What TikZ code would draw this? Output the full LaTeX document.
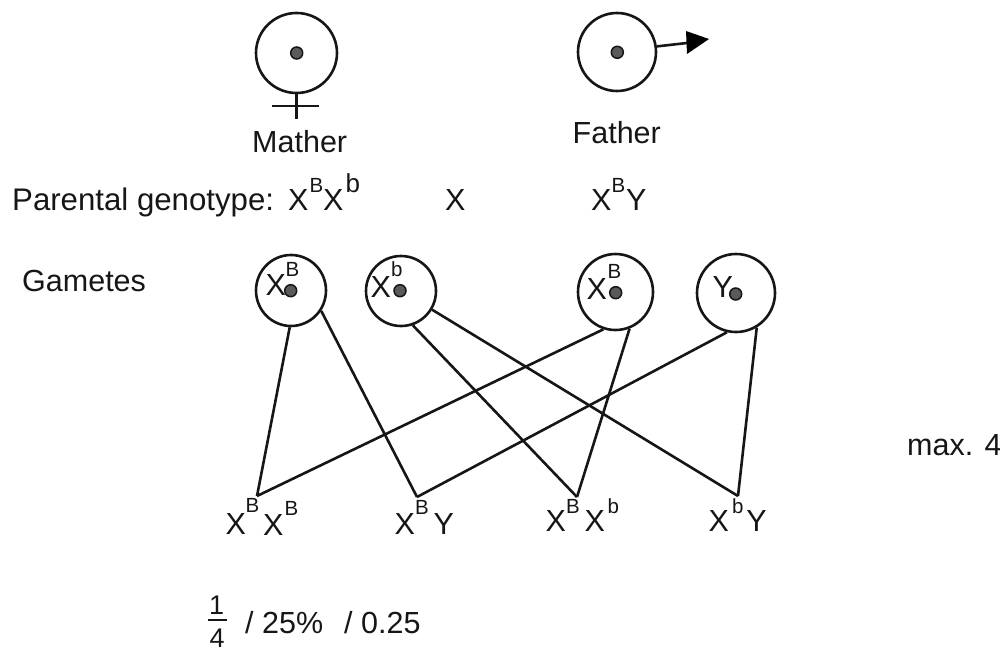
\documentclass[tikz,border=0pt]{standalone}
\usepackage{fontspec}
\setmainfont{Liberation Sans}
\usetikzlibrary{shapes.geometric}
\newcommand{\mainsize}{\fontsize{30.5}{36}\selectfont}
% \rsup{kern before}{raise}{size}{text}
\newcommand{\rsup}[4]{\hspace{#1pt}\raisebox{#2pt}{\fontsize{#3}{#3}\selectfont #4}}
\definecolor{ink}{HTML}{161616}
\definecolor{dotfill}{HTML}{5A5A5A}
\tikzset{
  lbl/.style={anchor=base west,inner sep=0pt,text=ink,font=\mainsize},
  sup/.style={anchor=base west,inner sep=0pt,text=ink,font=\fontsize{20.5}{24}\selectfont},
  frac/.style={anchor=base west,inner sep=0pt,text=ink,font=\fontsize{27}{29}\selectfont},
  ring/.style={draw=ink,ellipse,line width=2.6pt,inner sep=0pt},
  nucleus/.style={draw=ink,circle,fill=dotfill,line width=1.5pt,minimum size=12pt,inner sep=0pt},
  link/.style={draw=ink,line width=2.6pt}
}
\begin{document}
\begin{tikzpicture}[x=1pt,y=-1pt]
\useasboundingbox (0,0) rectangle (1000,650);
% parents
\node[ring,minimum width=81pt,minimum height=80pt] (mum) at (296.5,53) {};
\node[nucleus] (mumdot) at (296.7,53) {};
\coordinate (crossbot) at (296.5,119);
\coordinate (crossl) at (272,106);
\coordinate (crossr) at (319,106);
\draw[link] (mum.south) -- (crossbot);
\draw[link] (crossl) -- (crossr);
\node[ring,minimum width=78pt,minimum height=78pt] (dad) at (617,52) {};
\node[nucleus] (daddot) at (617.3,52.3) {};
\coordinate (headA) at (686,31);
\coordinate (headB) at (709,39);
\coordinate (headC) at (687,54);
\coordinate (headbase) at (687,43);
\draw[link] (dad.8) -- (headbase);
\fill[black] (headA) -- (headB) -- (headC) -- cycle;
% texts
\node[lbl] (mather) at (252,152) {Mather};
\node[lbl] (father) at (572.5,143) {Father};
\node[lbl,font=\fontsize{31.2}{36}\selectfont] (parental) at (12,210) {Parental genotype:};
\node[lbl] (mumgeno) at (288,210) {X\rsup{1}{18}{20.5}{B}\rsup{0}{0}{30.5}{X}\rsup{2}{18}{26}{b}};
\node[lbl] (crossx) at (445,210) {X};
\node[lbl] (dadgeno) at (591,210) {X\rsup{0}{18}{20.5}{B}\rsup{1}{0}{30.5}{Y}};
\node[lbl] (gametes) at (22,291) {Gametes};
\node[lbl] (maxfour) at (907,455) {max. 4};
% gametes
\node[ring,minimum width=70pt,minimum height=71pt] (g1) at (291,290.5) {};
\node[ring,minimum width=70pt,minimum height=70pt] (g2) at (401,291) {};
\node[ring,minimum width=75pt,minimum height=76pt] (g3) at (615.5,292) {};
\node[ring,minimum width=78pt,minimum height=78pt] (g4) at (736,293) {};
\node[lbl] (g1t) at (265.5,295) {X};
\node[sup] (g1s) at (285.5,276) {B};
\node[lbl] (g2t) at (370.5,297) {X};
\node[sup] (g2s) at (391,276) {b};
\node[lbl] (g3t) at (586.5,299) {X};
\node[sup] (g3s) at (607.5,278) {B};
\node[lbl] (g4t) at (712.5,297) {Y};
\node[nucleus] (d1) at (290.7,290.7) {};
\node[nucleus] (d2) at (400,290.7) {};
\node[nucleus] (d3) at (615.7,292.7) {};
\node[nucleus] (d4) at (735.7,294) {};
% offspring
\node[lbl] (o1) at (225.5,534) {X\rsup{-0.5}{22}{20.5}{B}\rsup{4}{-1}{30.5}{X}\rsup{1}{19}{20.5}{B}};
\node[lbl] (o2) at (394.5,534) {X\rsup{0}{20}{20.5}{B}\rsup{5}{0}{30.5}{Y}};
\node[lbl] (o3) at (545.5,531) {X\rsup{0}{18}{20.5}{B}\rsup{5}{0}{30.5}{X}\rsup{2.5}{18}{20.5}{b}};
\node[lbl] (o4) at (708.5,531) {X\rsup{3}{18}{20.5}{b}\rsup{3}{0}{30.5}{Y}};
\coordinate (p1) at (257,496);
\coordinate (p2) at (417,497);
\coordinate (p3) at (577,497);
\coordinate (p4) at (738,496);
\draw[link] (g1.-92) -- (p1);
\draw[link] (g1.-34) -- (p2);
\draw[link] (g2.-71) -- (p3);
\draw[link] (g2.-31) -- (p4);
\draw[link] (g3.-108) -- (p1);
\draw[link] (g3.-69) -- (p3);
\draw[link] (g4.-103) -- (p2);
\draw[link] (g4.-59) -- (p4);
% fraction
\node[frac] (one) at (209,614.5) {1};
\node[frac] (four) at (209.5,647) {4};
\coordinate (barl) at (208,620);
\coordinate (barr) at (227,620);
\draw[link] (barl) -- (barr);
\node[lbl] (pct) at (245,633) {/ 25\%};
\node[lbl] (dec) at (344,633) {/ 0.25};
\end{tikzpicture}
\end{document}
